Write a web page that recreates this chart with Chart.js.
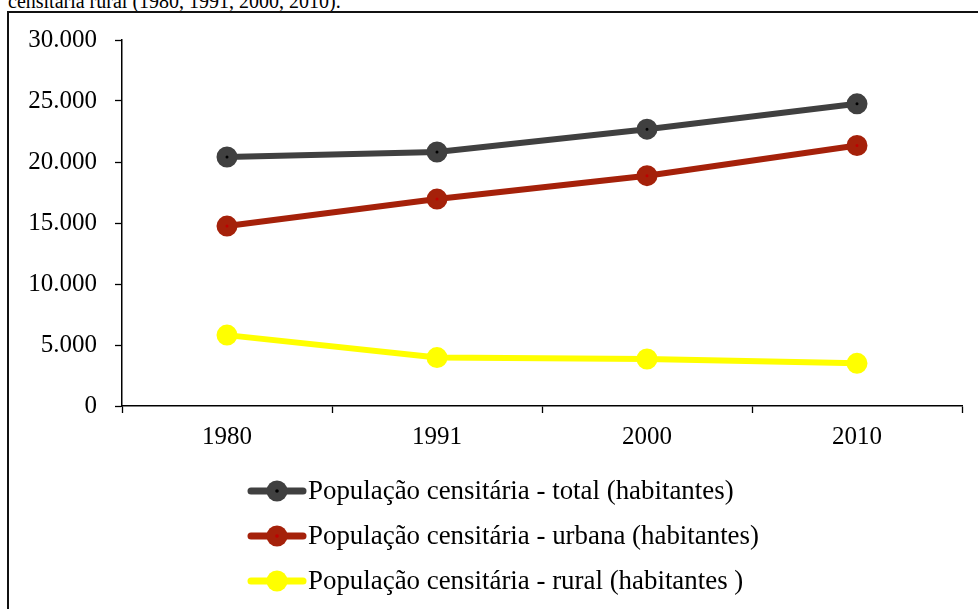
<!DOCTYPE html>
<html>
<head>
<meta charset="utf-8">
<script src="https://cdn.jsdelivr.net/npm/chart.js@4/dist/chart.umd.min.js"></script>
<style>
  html, body { margin: 0; padding: 0; background: #fff; overflow: hidden; }
  #wrap { position: relative; width: 978px; height: 609px; overflow: hidden; }
  #caption { position: absolute; left: 8px; top: -11px; font: 20px "Liberation Serif", "Times New Roman", serif; color: #000; white-space: nowrap; line-height: 24px; }
  #frame { position: absolute; left: 7px; top: 11px; width: 1000px; height: 640px; border: 2px solid #111; box-sizing: border-box; }
  canvas { position: absolute; left: 0; top: 0; }
</style>
</head>
<body>
<div id="wrap">
  <div id="caption">censitária rural (1980, 1991, 2000, 2010).</div>
  <div id="frame"></div>
  <canvas id="c" width="978" height="609"></canvas>
</div>
<script>
const categories = ["1980", "1991", "2000", "2010"];
const seriesNames = [
  "População censitária - total (habitantes)",
  "População censitária - urbana (habitantes)",
  "População censitária - rural (habitantes )"
];
const totalValues = [20410, 20820, 22690, 24770];
const urbanValues = [14750, 16960, 18880, 21350];
const ruralValues = [5810, 3970, 3850, 3500];
const yTickValues = [0, 5000, 10000, 15000, 20000, 25000, 30000];

const FONT = '"Liberation Serif", "Times New Roman", serif';
const lineColors = ["#404040", "#A5210A", "#FFFF00"];
const dotColors = ["#000000", "#C00000", "#FFFF00"];

function fmt(v) {
  return String(v).replace(/\B(?=(\d{3})+(?!\d))/g, ".");
}

const legendPlugin = {
  id: "customLegend",
  afterDraw(chart) {
    const ctx = chart.ctx;
    chart.data.datasets.forEach((ds, i) => {
      const y = 491 + i * 45;
      ctx.save();
      ctx.strokeStyle = lineColors[i];
      ctx.lineWidth = 7;
      ctx.lineCap = "round";
      ctx.beginPath();
      ctx.moveTo(251, y);
      ctx.lineTo(303, y);
      ctx.stroke();
      ctx.beginPath();
      ctx.arc(277, y, 10.5, 0, Math.PI * 2);
      ctx.fillStyle = lineColors[i];
      ctx.fill();
      ctx.beginPath();
      ctx.arc(277, y, 1.8, 0, Math.PI * 2);
      ctx.fillStyle = dotColors[i];
      ctx.fill();
      ctx.fillStyle = "#000";
      ctx.font = "26.9px " + FONT;
      ctx.textBaseline = "middle";
      ctx.textAlign = "left";
      ctx.fillText(ds.label, 308, y + 1);
      ctx.restore();
    });
  }
};

const valueSets = [totalValues, urbanValues, ruralValues];

new Chart(document.getElementById("c"), {
  type: "line",
  data: {
    labels: categories,
    datasets: valueSets.map((vals, i) => ({
      label: seriesNames[i],
      data: vals,
      borderColor: lineColors[i],
      borderWidth: 6,
      pointRadius: 6,
      pointBorderWidth: 9,
      pointBackgroundColor: dotColors[i],
      pointBorderColor: lineColors[i],
      pointHoverRadius: 6,
      tension: 0,
      fill: false
    }))
  },
  options: {
    responsive: false,
    animation: false,
    devicePixelRatio: 1,
    layout: { padding: { left: 0, right: 16, top: 40, bottom: 0 } },
    plugins: { legend: { display: false }, tooltip: { enabled: false } },
    scales: {
      x: {
        offset: true,
        grid: { offset: true, drawOnChartArea: false, drawTicks: true, tickLength: 7, color: "#000", tickWidth: 1.3 },
        border: { display: true, color: "#000", width: 1.5 },
        ticks: { color: "#000", font: { family: FONT, size: 25 }, padding: 9, maxRotation: 0 },
        afterFit(s) { s.height = 203; }
      },
      y: {
        min: 0,
        max: 30000,
        afterBuildTicks(s) { s.ticks = yTickValues.map(v => ({ value: v })); },
        grid: { drawOnChartArea: false, drawTicks: true, tickLength: 7, color: "#000", tickWidth: 1.3 },
        border: { display: true, color: "#000", width: 1.5 },
        ticks: { color: "#000", font: { family: FONT, size: 25 }, padding: 18, callback: v => fmt(v) },
        afterFit(s) { s.width = 122; }
      }
    }
  },
  plugins: [legendPlugin]
});
</script>
</body>
</html>
